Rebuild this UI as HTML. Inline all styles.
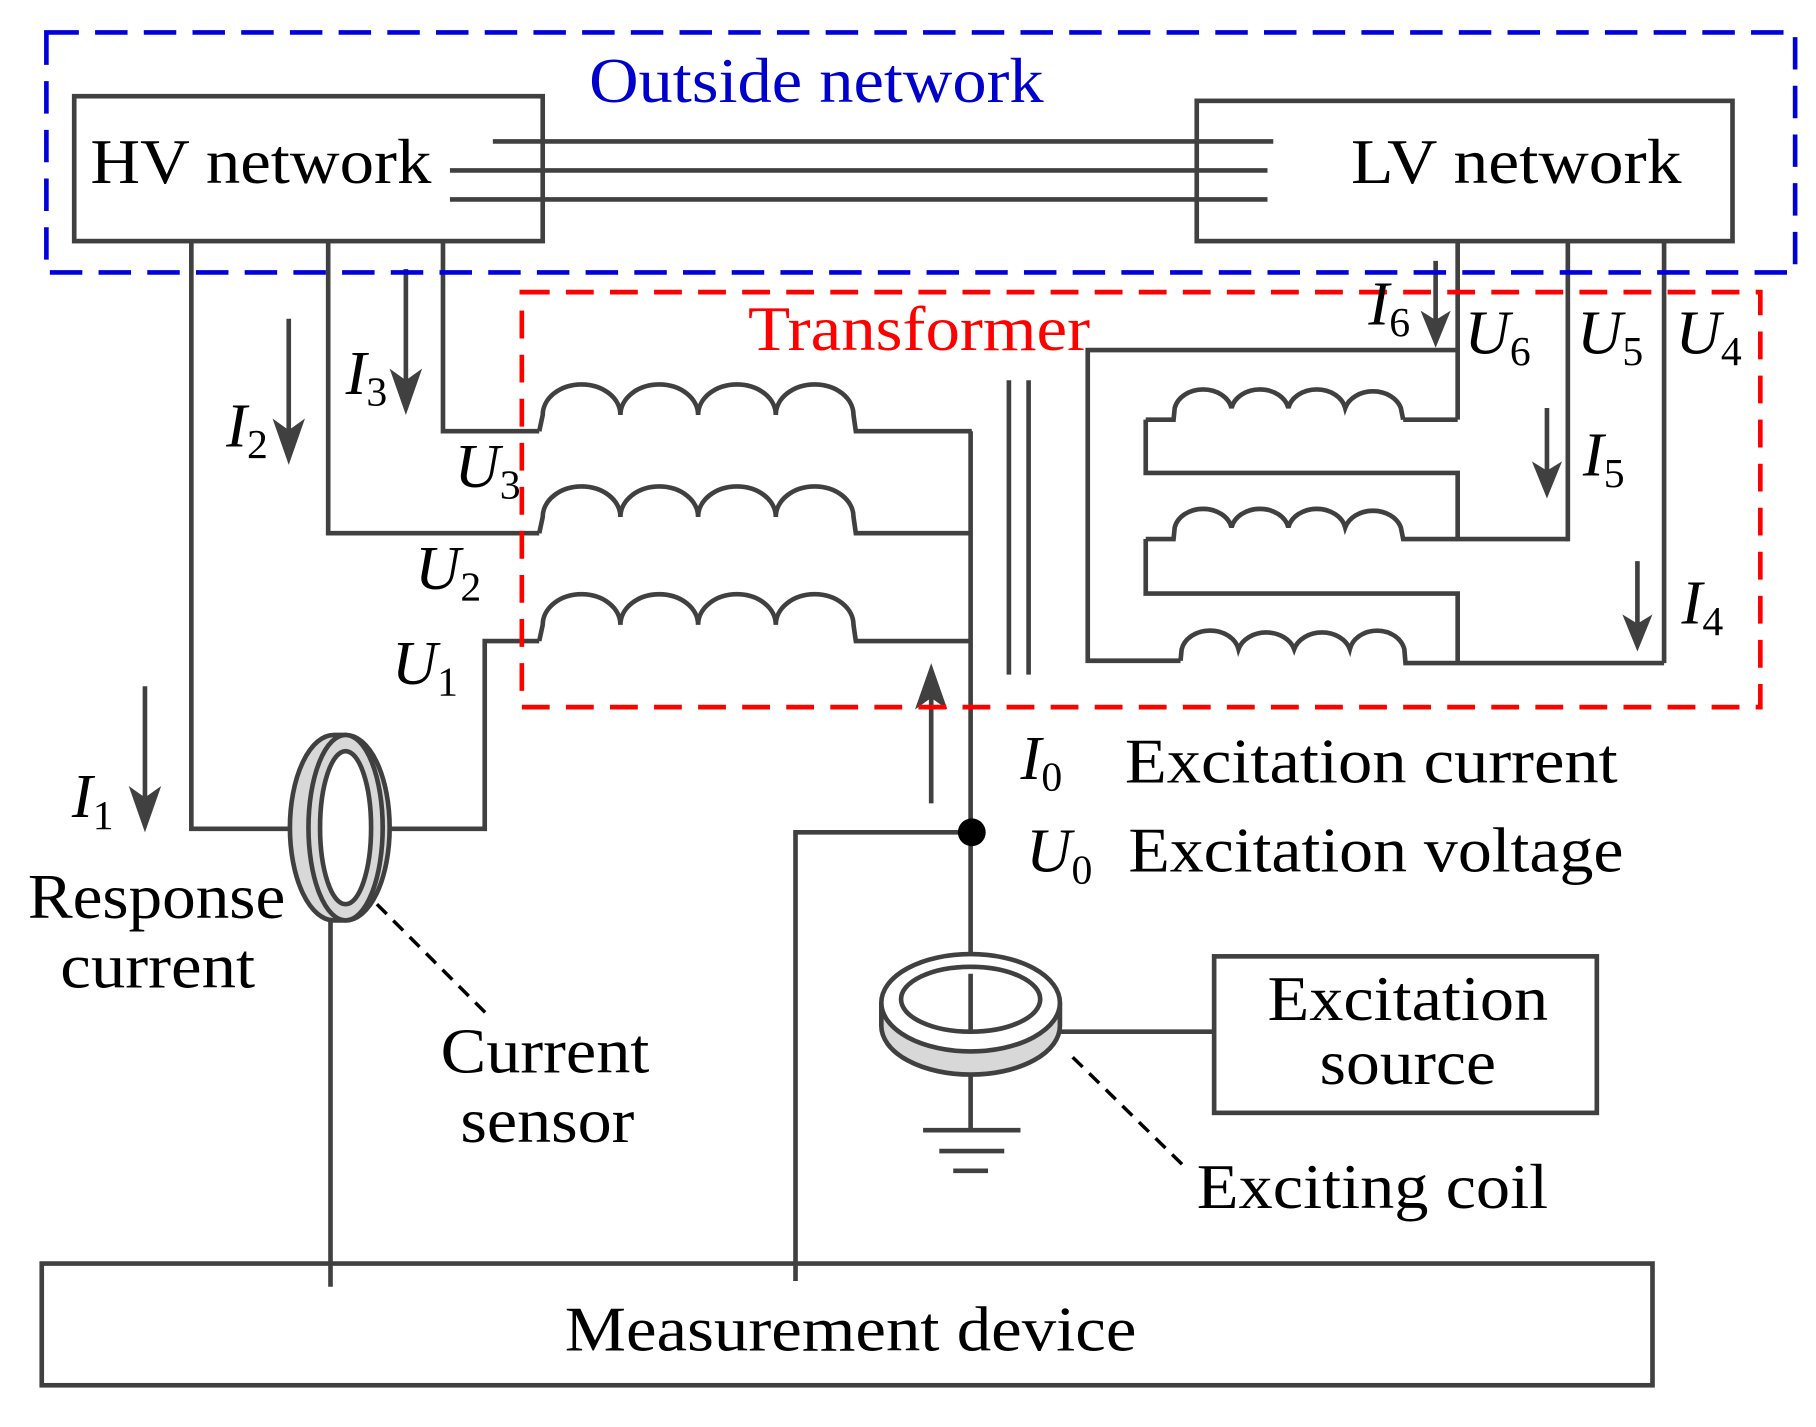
<!DOCTYPE html>
<html><head><meta charset="utf-8"><style>html,body{margin:0;padding:0;background:#fff}svg{display:block}</style></head><body>
<svg width="1816" height="1427" viewBox="0 0 1566 1231" preserveAspectRatio="none" xmlns="http://www.w3.org/2000/svg" font-family="Liberation Serif, serif">
<rect width="1566" height="1231" fill="#fff"/>
<g fill="none" stroke="#404040" stroke-width="4">
<rect x="64" y="83" width="404" height="125"/>
<rect x="1032" y="87" width="462" height="121"/>
<line x1="425" y1="122" x2="1098" y2="122"/>
<line x1="388" y1="147" x2="1093" y2="147"/>
<line x1="388" y1="172" x2="1093" y2="172"/>
<polyline points="165,208 165,715 418,715 418,553 465,553"/>
<polyline points="283,208 283,460 465,460"/>
<polyline points="382,208 382,372 465,372"/>
<path d="M465,372 L468,358 A33,26 0 0 1 535,358 A33,26 0 0 1 602,358 A33,26 0 0 1 669,358 A33,26 0 0 1 736,358 L738,372 L838,372"/>
<path d="M465,460 L468,446 A33,26 0 0 1 535,446 A33,26 0 0 1 602,446 A33,26 0 0 1 669,446 A33,26 0 0 1 736,446 L738,460 L838,460"/>
<path d="M465,553 L468,539 A33,26 0 0 1 535,539 A33,26 0 0 1 602,539 A33,26 0 0 1 669,539 A33,26 0 0 1 736,539 L738,553 L838,553"/>
<line x1="837" y1="372" x2="837" y2="975"/>
<line x1="870" y1="328" x2="870" y2="582"/>
<line x1="887" y1="328" x2="887" y2="582"/>
<line x1="1257" y1="208" x2="1257" y2="362"/>
<line x1="1352" y1="208" x2="1352" y2="467"/>
<line x1="1435" y1="208" x2="1435" y2="572"/>
<polyline points="1257,302 938,302 938,570 1018,570"/>
<path d="M1210,362 L1257,362 M988,362 L1012,362 L1013,352 A25,20 0 0 1 1062,352 A25,20 0 0 1 1111,352 A25,20 0 0 1 1160,352 A25,20 0 0 1 1208,352 L1210,362"/>
<polyline points="988,362 988,408 1257,408 1257,465 1352,465"/>
<path d="M988,465 L1012,465 L1013,455 A25,20 0 0 1 1062,455 A25,20 0 0 1 1111,455 A25,20 0 0 1 1160,455 A25,20 0 0 1 1208,455 L1210,465 L1257,465"/>
<polyline points="988,465 988,512 1257,512 1257,572"/>
<path d="M1018,570 L1019,560 A25,20 0 0 1 1068,560 A25,20 0 0 1 1116,560 A25,20 0 0 1 1164,560 A24,20 0 0 1 1211,560 L1212,572 L1435,572"/>
<polyline points="838,718 686,718 686,1105"/>
<line x1="285" y1="795" x2="285" y2="1110"/>
<rect x="36" y="1090" width="1389" height="105"/>
<rect x="1047" y="825" width="330" height="135"/>
<line x1="915" y1="890" x2="1047" y2="890"/>
<line x1="796" y1="975" x2="880" y2="975"/>
<line x1="810" y1="993" x2="866" y2="993"/>
<line x1="822" y1="1010" x2="852" y2="1010"/>
</g>
<g stroke="#404040" stroke-width="4" fill="#404040">
<line x1="350" y1="232" x2="350" y2="350"/><path d="M336,318 L350,358 L364,318 L350,328Z" stroke="none"/>
<line x1="249" y1="275" x2="249" y2="393"/><path d="M235,361 L249,401 L263,361 L249,371Z" stroke="none"/>
<line x1="125" y1="592" x2="125" y2="710"/><path d="M111,678 L125,718 L139,678 L125,688Z" stroke="none"/>
<line x1="803" y1="693" x2="803" y2="580"/><path d="M789,612 L803,572 L817,612 L803,602Z" stroke="none"/>
<line x1="1238" y1="225" x2="1238" y2="292"/><path d="M1225,268 L1238,300 L1251,268 L1238,276Z" stroke="none"/>
<line x1="1334" y1="352" x2="1334" y2="422"/><path d="M1321,398 L1334,430 L1347,398 L1334,406Z" stroke="none"/>
<line x1="1412" y1="484" x2="1412" y2="554"/><path d="M1399,530 L1412,562 L1425,530 L1412,538Z" stroke="none"/>
</g>
<circle cx="838" cy="718" r="12" fill="#000"/>
<g stroke="#404040" stroke-width="4">
<path d="M288,634 L298,634 A38,80 0 0 1 298,794 L288,794 A38,80 0 0 1 288,634Z" fill="#d8d8d8"/>
<ellipse cx="298" cy="714" rx="32" ry="80" fill="#d8d8d8"/>
<ellipse cx="298" cy="714" rx="22" ry="66" fill="#fff"/>
<path d="M760,865 L760,885 A77,42 0 0 0 914,885 L914,865" fill="#d8d8d8"/>
<ellipse cx="837" cy="865" rx="77" ry="42" fill="#fff"/>
<ellipse cx="837" cy="862" rx="60" ry="28" fill="#fff"/>
</g>
<line x1="837" y1="840" x2="837" y2="890" stroke="#404040" stroke-width="4"/>
<g stroke="#000" stroke-width="3" stroke-dasharray="12,8">
<line x1="325" y1="780" x2="420" y2="875"/>
<line x1="925" y1="912" x2="1020" y2="1005"/>
</g>
<rect x="40" y="28" width="1508" height="207" fill="none" stroke="#0000dd" stroke-width="4" stroke-dasharray="28,14"/>
<rect x="450" y="252" width="1068" height="358" fill="none" stroke="#ff0000" stroke-width="4" stroke-dasharray="24,14"/>
<g font-size="55" fill="#000" lengthAdjust="spacingAndGlyphs">
<text x="508" y="88" fill="#0000cc" textLength="392" lengthAdjust="spacingAndGlyphs">Outside network</text>
<text x="645" y="302" fill="#ff0000" textLength="295" lengthAdjust="spacingAndGlyphs">Transformer</text>
<text x="78" y="158" textLength="294" lengthAdjust="spacingAndGlyphs">HV network</text>
<text x="1165" y="158" textLength="285" lengthAdjust="spacingAndGlyphs">LV network</text>
<text x="24" y="792" textLength="222" lengthAdjust="spacingAndGlyphs">Response</text>
<text x="52" y="852" textLength="168" lengthAdjust="spacingAndGlyphs">current</text>
<text x="380" y="925" textLength="180" lengthAdjust="spacingAndGlyphs">Current</text>
<text x="397" y="985" textLength="150" lengthAdjust="spacingAndGlyphs">sensor</text>
<text x="970" y="675" textLength="425" lengthAdjust="spacingAndGlyphs">Excitation current</text>
<text x="973" y="752" textLength="427" lengthAdjust="spacingAndGlyphs">Excitation voltage</text>
<text x="1093" y="880" textLength="242" lengthAdjust="spacingAndGlyphs">Excitation</text>
<text x="1138" y="935" textLength="152" lengthAdjust="spacingAndGlyphs">source</text>
<text x="1032" y="1042" textLength="303" lengthAdjust="spacingAndGlyphs">Exciting coil</text>
<text x="487" y="1165" textLength="493" lengthAdjust="spacingAndGlyphs">Measurement device</text>
</g>
<g font-size="54" fill="#000" font-style="italic">
<text x="298" y="340">I<tspan font-size="36" font-style="normal" dy="10">3</tspan></text>
<text x="195" y="385">I<tspan font-size="36" font-style="normal" dy="10">2</tspan></text>
<text x="62" y="705">I<tspan font-size="36" font-style="normal" dy="10">1</tspan></text>
<text x="392" y="420">U<tspan font-size="36" font-style="normal" dy="10">3</tspan></text>
<text x="358" y="508">U<tspan font-size="36" font-style="normal" dy="10">2</tspan></text>
<text x="338" y="590">U<tspan font-size="36" font-style="normal" dy="10">1</tspan></text>
<text x="880" y="672">I<tspan font-size="36" font-style="normal" dy="10">0</tspan></text>
<text x="885" y="752">U<tspan font-size="36" font-style="normal" dy="10">0</tspan></text>
<text x="1180" y="280">I<tspan font-size="36" font-style="normal" dy="10">6</tspan></text>
<text x="1263" y="305">U<tspan font-size="36" font-style="normal" dy="10">6</tspan></text>
<text x="1360" y="305">U<tspan font-size="36" font-style="normal" dy="10">5</tspan></text>
<text x="1445" y="305">U<tspan font-size="36" font-style="normal" dy="10">4</tspan></text>
<text x="1365" y="410">I<tspan font-size="36" font-style="normal" dy="10">5</tspan></text>
<text x="1450" y="538">I<tspan font-size="36" font-style="normal" dy="10">4</tspan></text>
</g>
</svg>
</body></html>
